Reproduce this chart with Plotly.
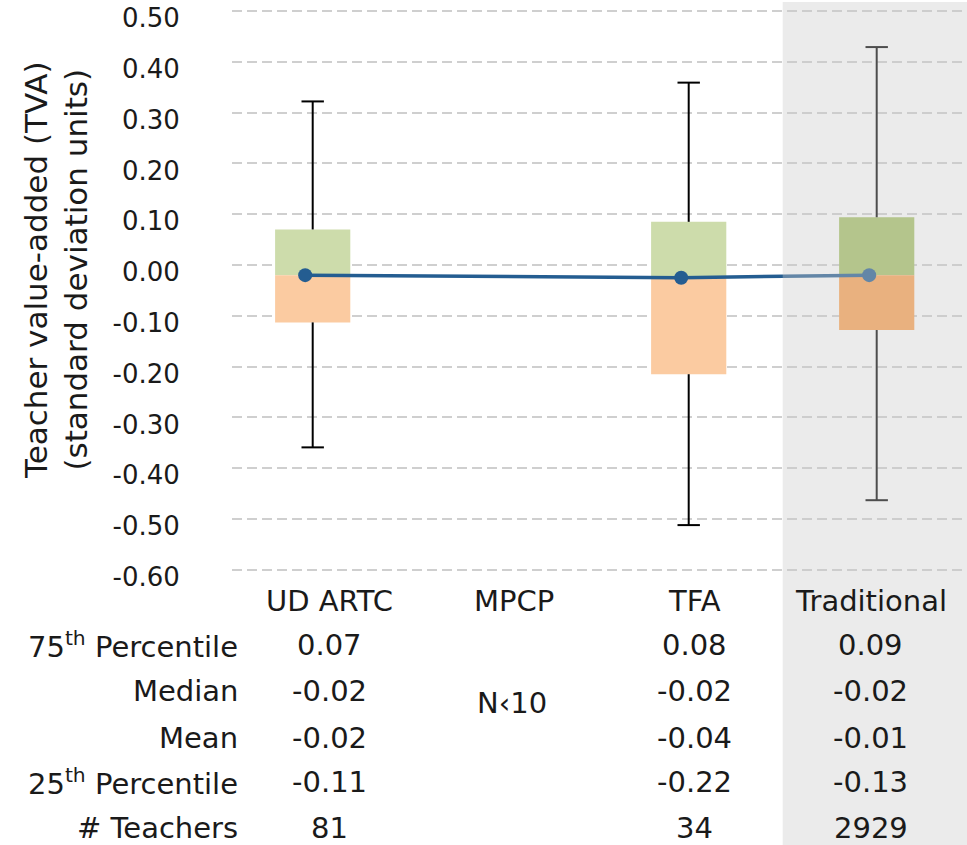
import plotly.graph_objects as go

# ---------------- data ----------------
categories = ["UD ARTC", "MPCP", "TFA", "Traditional"]
whisker_max = [0.322, None, 0.359, 0.429]
box_p75 = [0.07, None, 0.085, 0.094]
box_median = [-0.02, None, -0.025, -0.02]
box_p25 = [-0.113, None, -0.215, -0.128]
whisker_min = [-0.359, None, -0.512, -0.463]

# table below the chart
row_labels = ["75<sup>th</sup> Percentile", "Median", "Mean", "25<sup>th</sup> Percentile", "# Teachers"]
tbl_p75 = [0.07, None, 0.08, 0.09]
tbl_median = [-0.02, None, -0.02, -0.02]
tbl_mean = [-0.02, None, -0.04, -0.01]
tbl_p25 = [-0.11, None, -0.22, -0.13]
tbl_teachers = [81, None, 34, 2929]
small_n_text = "N‹10"

tick_vals = [0.5, 0.4, 0.3, 0.2, 0.1, 0.0, -0.1, -0.2, -0.3, -0.4, -0.5, -0.6]
tick_text = [f"{v:.2f}" for v in tick_vals]

# ---------------- styles ----------------
FONT = "DejaVu Sans"
W, H = 967, 845
ML, MR, MT, MB = 232, 0, 2, 0
green = ["#cddcab", None, "#cddcab", "rgb(166,194,102)"]
orange = ["#fbcba1", None, "#fbcba1", "rgb(252,162,81)"]
line_col = "#245d91"
mean_dx = -0.04

idx = [i for i, v in enumerate(box_p75) if v is not None]

fig = go.Figure()

# upper half of box (median -> 75th)
fig.add_trace(go.Bar(
    x=idx,
    base=[box_median[i] for i in idx],
    y=[box_p75[i] - box_median[i] for i in idx],
    width=0.4,
    marker=dict(color=[green[i] for i in idx], line=dict(width=0)),
    hoverinfo="skip", showlegend=False,
))
# lower half of box (25th -> median)
fig.add_trace(go.Bar(
    x=idx,
    base=[box_p25[i] for i in idx],
    y=[box_median[i] - box_p25[i] for i in idx],
    width=0.4,
    marker=dict(color=[orange[i] for i in idx], line=dict(width=0)),
    hoverinfo="skip", showlegend=False,
))

# whiskers
wx, wy = [], []
for i in idx:
    wx += [i, i, None, i, i, None]
    wy += [box_p75[i], whisker_max[i], None, box_p25[i], whisker_min[i], None]
fig.add_trace(go.Scatter(
    x=wx, y=wy, mode="lines",
    line=dict(color="#000000", width=2),
    hoverinfo="skip", showlegend=False,
))
# whisker caps
fig.add_trace(go.Scatter(
    x=idx + idx,
    y=[whisker_max[i] for i in idx] + [whisker_min[i] for i in idx],
    mode="markers",
    marker=dict(symbol="line-ew", size=16, line=dict(color="#000000", width=2)),
    hoverinfo="skip", showlegend=False,
))

# median line
fig.add_trace(go.Scatter(
    x=[i + mean_dx for i in range(len(categories))],
    y=box_median,
    mode="lines+markers",
    connectgaps=True,
    line=dict(color=line_col, width=3.5),
    marker=dict(color=line_col, size=14),
    hoverinfo="skip", showlegend=False,
))

# grey band over "Traditional"
fig.add_shape(type="rect", xref="x", yref="paper",
              x0=2.5, x1=3.7, y0=0, y1=1,
              fillcolor="rgba(202,202,202,0.38)", line=dict(width=0),
              layer="above")

# ---------------- table annotations ----------------
PH = H - MT - MB
PW = W - ML - MR


def py(p):
    return 1 - (p - MT) / PH


row_y = [645, 691, 738, 782, 828]
head_y = 601
col_shift = [17, 13, 6, -6]
tfont = dict(family=FONT, size=29, color="#1a1a1a")

for i, c in enumerate(categories):
    fig.add_annotation(x=i, xref="x", y=py(head_y), yref="paper", text=c,
                       showarrow=False, xshift=col_shift[i], font=tfont,
                       xanchor="center", yanchor="middle")

for r, lab in enumerate(row_labels):
    fig.add_annotation(x=(240 - ML) / PW, xref="paper", y=py(row_y[r]), yref="paper",
                       text=lab, showarrow=False, font=tfont,
                       xanchor="right", yanchor="middle")

rows = [tbl_p75, tbl_median, tbl_mean, tbl_p25]
for r, vals in enumerate(rows):
    for i, v in enumerate(vals):
        if v is None:
            continue
        fig.add_annotation(x=i, xref="x", y=py(row_y[r]), yref="paper",
                           text=f"{v:.2f}", showarrow=False, xshift=col_shift[i],
                           font=tfont, xanchor="center", yanchor="middle")
for i, v in enumerate(tbl_teachers):
    if v is None:
        fig.add_annotation(x=i, xref="x", y=py(703), yref="paper",
                           text=small_n_text, showarrow=False, xshift=col_shift[i] - 2,
                           font=tfont, xanchor="center", yanchor="middle")
        continue
    fig.add_annotation(x=i, xref="x", y=py(row_y[4]), yref="paper",
                       text=f"{v}", showarrow=False, xshift=col_shift[i],
                       font=tfont, xanchor="center", yanchor="middle")

# y-axis title
fig.add_annotation(x=(56 - ML) / PW, xref="paper", y=py(271), yref="paper",
                   text="Teacher value-added (TVA)<br>(standard deviation units)",
                   textangle=-90, showarrow=False,
                   font=dict(family=FONT, size=31, color="#1a1a1a"),
                   xanchor="center", yanchor="middle", align="center")

# ---------------- layout ----------------
x0 = (ML - 312.7) / 188.0
x1 = (W - MR - 312.7) / 188.0
y_top = 0.5 + (11 - MT) / 508.0
y_bot = 0.5 - (H - MB - 11) / 508.0

fig.update_layout(
    width=W, height=H,
    margin=dict(l=ML, r=MR, t=MT, b=MB, pad=0, autoexpand=False),
    paper_bgcolor="white", plot_bgcolor="white",
    barmode="overlay",
    showlegend=False,
    font=dict(family=FONT, color="#1a1a1a"),
    xaxis=dict(range=[x0, x1], showgrid=False, zeroline=False, automargin=False,
               showticklabels=False, ticks="", showline=False, fixedrange=True),
    yaxis=dict(range=[y_bot, y_top], tickmode="array", automargin=False,
               tickvals=tick_vals, ticktext=tick_text,
               showgrid=True, gridcolor="#cfcfcf", gridwidth=1.5,
               griddash="10px,5px", zeroline=False, showline=False,
               ticks="outside", ticklen=46, tickcolor="rgba(0,0,0,0)",
               ticklabelshift=7, ticklabeloverflow="allow",
               tickfont=dict(family=FONT, size=26, color="#1a1a1a"),
               fixedrange=True),
)

fig.write_html("out.html")
